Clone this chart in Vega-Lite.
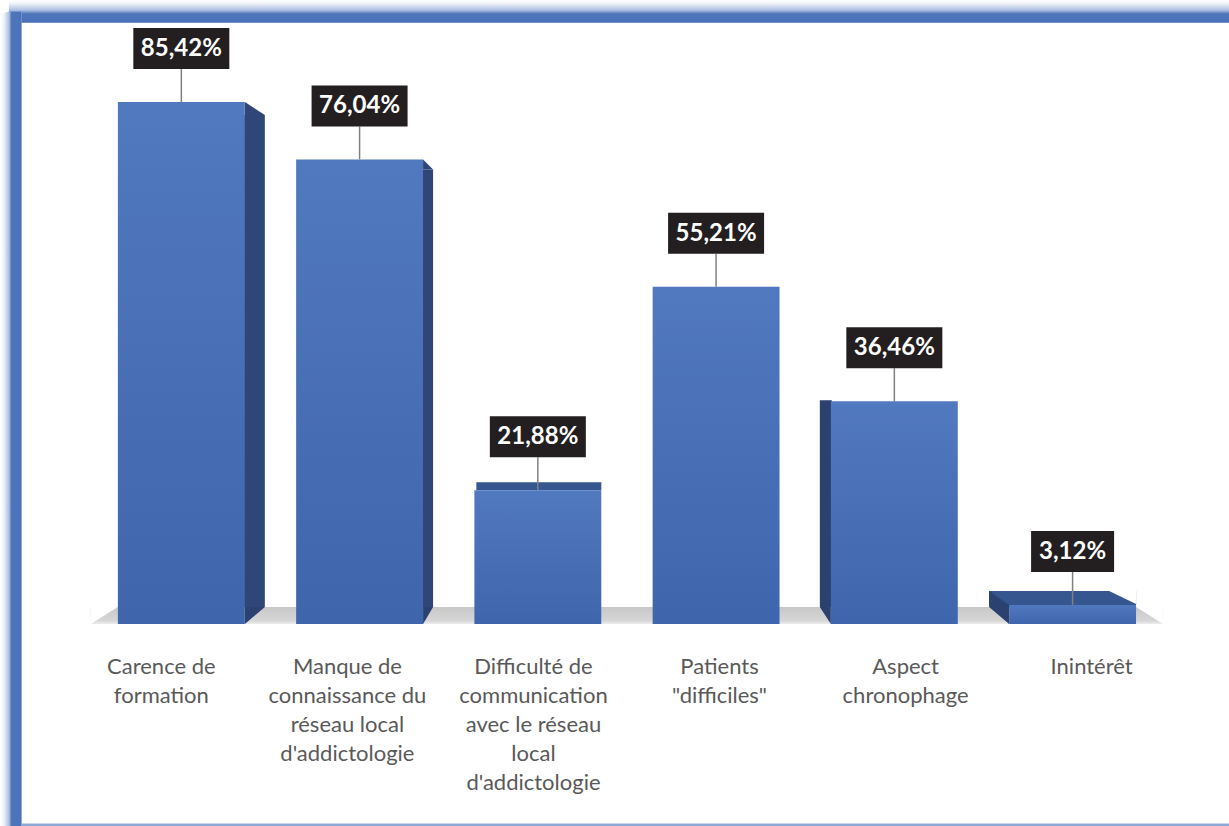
{
  "$schema": "https://vega.github.io/schema/vega-lite/v6.json",
  "width": 1229,
  "height": 826,
  "padding": 0,
  "autosize": {"type": "fit", "contains": "padding"},
  "background": "#ffffff",
  "config": {"view": {"stroke": null}},
  "data": {
    "values": [
      {"cat": "Carence de formation", "label": "Carence de\nformation", "value": 85.42, "txt": "85,42%"},
      {"cat": "Manque de connaissance du réseau local d'addictologie", "label": "Manque de\nconnaissance du\nréseau local\nd'addictologie", "value": 76.04, "txt": "76,04%"},
      {"cat": "Difficulté de communication avec le réseau local d'addictologie", "label": "Difficulté de\ncommunication\navec le réseau\nlocal\nd'addictologie", "value": 21.88, "txt": "21,88%"},
      {"cat": "Patients \"difficiles\"", "label": "Patients\n\"difficiles\"", "value": 55.21, "txt": "55,21%"},
      {"cat": "Aspect chronophage", "label": "Aspect\nchronophage", "value": 36.46, "txt": "36,46%"},
      {"cat": "Inintérêt", "label": "Inintérêt", "value": 3.12, "txt": "3,12%"}
    ]
  },
  "resolve": {"scale": {"x": "independent"}},
  "layer": [
    {
      "encoding": {
        "x": {"field": "cat", "type": "nominal", "sort": null, "axis": null,
          "scale": {"type": "band", "domain": ["Carence de formation", "Manque de connaissance du réseau local d'addictologie", "Difficulté de communication avec le réseau local d'addictologie", "Patients \"difficiles\"", "Aspect chronophage", "Inintérêt"], "paddingInner": 0.2881, "paddingOuter": 0.5886, "align": 0.557, "round": false}}
      },
      "layer": [
        {
          "data": {"values": [{}]},
          "mark": {"type": "bar", "width": 1221, "xOffset": 438,
            "fill": {"gradient": "linear", "x1": 0, "y1": 0, "x2": 0, "y2": 1, "stops": [{"offset": 0, "color": "#ffffff"}, {"offset": 0.15, "color": "#f0f3f9"}, {"offset": 0.45, "color": "#a9bde0"}, {"offset": 0.6, "color": "#4f76ba"}, {"offset": 0.95, "color": "#4a72b9"}, {"offset": 1, "color": "#8ea8d6"}]}},
          "encoding": {
            "x": {"datum": "Carence de formation", "type": "nominal", "axis": null},
            "y": {"datum": 102.13, "type": "quantitative", "axis": null, "scale": {"domain": [-33.06, 102.13], "nice": false, "zero": false}},
            "y2": {"datum": 98.37}
          }
        },
        {
          "data": {"values": [{}]},
          "mark": {"type": "bar", "width": 21, "xOffset": -170, "cornerRadiusTopLeft": 8,
            "fill": {"gradient": "linear", "x1": 0, "y1": 0, "x2": 1, "y2": 0, "stops": [{"offset": 0, "color": "#ffffff"}, {"offset": 0.15, "color": "#eef2f9"}, {"offset": 0.4, "color": "#a9bde0"}, {"offset": 0.5, "color": "#4f76ba"}, {"offset": 0.95, "color": "#4a72b9"}, {"offset": 1, "color": "#8ea8d6"}]}},
          "encoding": {
            "x": {"datum": "Carence de formation", "type": "nominal", "axis": null},
            "y": {"datum": 100.2, "type": "quantitative", "axis": null, "scale": {"domain": [-33.06, 102.13], "nice": false, "zero": false}},
            "y2": {"datum": -33.06}
          }
        },
        {
          "data": {"values": [{}]},
          "mark": {"type": "bar", "width": 1208, "xOffset": 444.5, "color": "#8ea8d6"},
          "encoding": {
            "x": {"datum": "Carence de formation", "type": "nominal", "axis": null},
            "y": {"datum": -32.65, "type": "quantitative", "axis": null, "scale": {"domain": [-33.06, 102.13], "nice": false, "zero": false}},
            "y2": {"datum": -33.06}
          }
        },
        {
          "mark": {"type": "bar", "width": 181, "yOffset": -17,
            "fill": {"gradient": "linear", "x1": 0, "y1": 0, "x2": 0, "y2": 1, "stops": [{"offset": 0, "color": "#c8c8c8"}, {"offset": 0.8, "color": "#d6d6d6"}, {"offset": 1, "color": "#ececec"}]}},
          "encoding": {
            "y": {"datum": 0, "type": "quantitative", "axis": null, "scale": {"domain": [-33.06, 102.13], "nice": false, "zero": false}},
            "y2": {"datum": 0}
          }
        },
        {
          "transform": [{"filter": {"field": "cat", "equal": "Carence de formation"}}],
          "mark": {"type": "point", "shape": "M-1,-0.63L1,-0.63L-1,0.63Z", "size": 729, "filled": true, "color": "#ffffff", "opacity": 1, "strokeWidth": 0, "xOffset": -77, "yOffset": -8.5},
          "encoding": {
            "y": {"datum": 0, "type": "quantitative", "axis": null, "scale": {"domain": [-33.06, 102.13], "nice": false, "zero": false}}
          }
        },
        {
          "transform": [{"filter": {"field": "cat", "equal": "Inintérêt"}}],
          "mark": {"type": "point", "shape": "M-1,-0.63L1,-0.63L1,0.63Z", "size": 729, "filled": true, "color": "#ffffff", "opacity": 1, "strokeWidth": 0, "xOffset": 77, "yOffset": -8.5},
          "encoding": {
            "y": {"datum": 0, "type": "quantitative", "axis": null, "scale": {"domain": [-33.06, 102.13], "nice": false, "zero": false}}
          }
        },
        {
          "transform": [{"filter": {"field": "cat", "equal": "Carence de formation"}}],
          "layer": [
            {
              "mark": {"type": "bar", "width": 21, "xOffset": 73, "yOffset": 13, "y2Offset": -17, "color": "#2f4677"},
              "encoding": {
                "y": {"field": "value", "type": "quantitative", "axis": null, "scale": {"domain": [-33.06, 102.13], "nice": false, "zero": false}},
                "y2": {"datum": 0}
              }
            },
            {
              "mark": {"type": "point", "shape": "M-1,-0.65L1,0.65L-1,0.65Z", "size": 400, "filled": true, "color": "#2f4677", "opacity": 1, "strokeWidth": 0, "xOffset": 73.5, "yOffset": 6.5},
              "encoding": {
                "y": {"field": "value", "type": "quantitative", "axis": null, "scale": {"domain": [-33.06, 102.13], "nice": false, "zero": false}}
              }
            },
            {
              "mark": {"type": "point", "shape": "M-1,-0.85L1,-0.85L-1,0.85Z", "size": 400, "filled": true, "color": "#2b4170", "opacity": 1, "strokeWidth": 0, "xOffset": 73.5, "yOffset": -8.5},
              "encoding": {
                "y": {"datum": 0, "type": "quantitative", "axis": null, "scale": {"domain": [-33.06, 102.13], "nice": false, "zero": false}}
              }
            }
          ]
        },
        {
          "transform": [{"filter": {"field": "cat", "equal": "Manque de connaissance du réseau local d'addictologie"}}],
          "layer": [
            {
              "mark": {"type": "bar", "width": 11, "xOffset": 68, "yOffset": 10, "y2Offset": -17, "color": "#2f4677"},
              "encoding": {
                "y": {"field": "value", "type": "quantitative", "axis": null, "scale": {"domain": [-33.06, 102.13], "nice": false, "zero": false}},
                "y2": {"datum": 0}
              }
            },
            {
              "mark": {"type": "point", "shape": "M-1,-1L1,1L-1,1Z", "size": 100, "filled": true, "color": "#2f4677", "opacity": 1, "strokeWidth": 0, "xOffset": 68.5, "yOffset": 5},
              "encoding": {
                "y": {"field": "value", "type": "quantitative", "axis": null, "scale": {"domain": [-33.06, 102.13], "nice": false, "zero": false}}
              }
            },
            {
              "mark": {"type": "point", "shape": "M-1,-1.7L1,-1.7L-1,1.7Z", "size": 100, "filled": true, "color": "#2b4170", "opacity": 1, "strokeWidth": 0, "xOffset": 68.5, "yOffset": -8.5},
              "encoding": {
                "y": {"datum": 0, "type": "quantitative", "axis": null, "scale": {"domain": [-33.06, 102.13], "nice": false, "zero": false}}
              }
            }
          ]
        },
        {
          "transform": [{"filter": {"field": "cat", "equal": "Difficulté de communication avec le réseau local d'addictologie"}}],
          "mark": {"type": "bar", "width": 125, "xOffset": 1, "yOffset": -8, "color": "#35568f"},
          "encoding": {
            "y": {"field": "value", "type": "quantitative", "axis": null, "scale": {"domain": [-33.06, 102.13], "nice": false, "zero": false}},
            "y2": {"field": "value"}
          }
        },
        {
          "transform": [{"filter": {"field": "cat", "equal": "Aspect chronophage"}}],
          "layer": [
            {
              "mark": {"type": "bar", "width": 12, "xOffset": -68.5, "yOffset": -1, "y2Offset": -17, "color": "#2b4170"},
              "encoding": {
                "y": {"field": "value", "type": "quantitative", "axis": null, "scale": {"domain": [-33.06, 102.13], "nice": false, "zero": false}},
                "y2": {"datum": 0}
              }
            },
            {
              "mark": {"type": "point", "shape": "M-1,-1.545L1,-1.545L1,1.545Z", "size": 121, "filled": true, "color": "#2b4170", "opacity": 1, "strokeWidth": 0, "xOffset": -69, "yOffset": -8.5},
              "encoding": {
                "y": {"datum": 0, "type": "quantitative", "axis": null, "scale": {"domain": [-33.06, 102.13], "nice": false, "zero": false}}
              }
            }
          ]
        },
        {
          "transform": [{"filter": {"field": "cat", "equal": "Inintérêt"}}],
          "layer": [
            {
              "mark": {"type": "bar", "width": 147, "xOffset": -10, "yOffset": -14, "color": "#35568f"},
              "encoding": {
                "y": {"field": "value", "type": "quantitative", "axis": null, "scale": {"domain": [-33.06, 102.13], "nice": false, "zero": false}},
                "y2": {"field": "value"}
              }
            },
            {
              "mark": {"type": "point", "shape": "M-1,-0.48L1,-0.48L1,0.48Z", "size": 729, "filled": true, "color": "#ffffff", "opacity": 1, "strokeWidth": 0, "xOffset": 50, "yOffset": -7.5},
              "encoding": {
                "y": {"field": "value", "type": "quantitative", "axis": null, "scale": {"domain": [-33.06, 102.13], "nice": false, "zero": false}}
              }
            },
            {
              "mark": {"type": "point", "shape": "M-1,-0.7L1,0.7L-1,0.7Z", "size": 400, "filled": true, "color": "#2b4170", "opacity": 1, "strokeWidth": 0, "xOffset": -73.5, "yOffset": -7},
              "encoding": {
                "y": {"field": "value", "type": "quantitative", "axis": null, "scale": {"domain": [-33.06, 102.13], "nice": false, "zero": false}}
              }
            },
            {
              "mark": {"type": "bar", "width": 21, "xOffset": -73, "y2Offset": -17, "color": "#2b4170"},
              "encoding": {
                "y": {"field": "value", "type": "quantitative", "axis": null, "scale": {"domain": [-33.06, 102.13], "nice": false, "zero": false}},
                "y2": {"datum": 0}
              }
            },
            {
              "mark": {"type": "point", "shape": "M-1,-0.85L1,-0.85L1,0.85Z", "size": 400, "filled": true, "color": "#2b4170", "opacity": 1, "strokeWidth": 0, "xOffset": -73.5, "yOffset": -8.5},
              "encoding": {
                "y": {"datum": 0, "type": "quantitative", "axis": null, "scale": {"domain": [-33.06, 102.13], "nice": false, "zero": false}}
              }
            }
          ]
        },
        {
          "mark": {"type": "bar",
            "fill": {"gradient": "linear", "x1": 0, "y1": 0, "x2": 0, "y2": 1, "stops": [{"offset": 0, "color": "#5179c0"}, {"offset": 1, "color": "#3f66ad"}]}},
          "encoding": {
            "y": {"field": "value", "type": "quantitative", "axis": null, "scale": {"domain": [-33.06, 102.13], "nice": false, "zero": false}},
            "y2": {"datum": 0}
          }
        },
        {
          "mark": {"type": "rule", "color": "#808080", "strokeWidth": 1.5, "yOffset": -33},
          "encoding": {
            "y": {"field": "value", "type": "quantitative", "axis": null, "scale": {"domain": [-33.06, 102.13], "nice": false, "zero": false}},
            "y2": {"field": "value"}
          }
        },
        {
          "mark": {"type": "bar", "color": "#231f20", "yOffset": -74, "y2Offset": -33},
          "encoding": {
            "y": {"field": "value", "type": "quantitative", "axis": null, "scale": {"domain": [-33.06, 102.13], "nice": false, "zero": false}},
            "y2": {"field": "value"},
            "size": {"field": "value", "type": "quantitative", "legend": null, "scale": {"type": "threshold", "domain": [10], "range": [83, 96]}}
          }
        },
        {
          "mark": {"type": "text", "color": "#ffffff", "font": "Lato", "fontWeight": "bold", "fontSize": 24, "baseline": "middle", "align": "center", "yOffset": -53},
          "encoding": {
            "y": {"field": "value", "type": "quantitative", "axis": null, "scale": {"domain": [-33.06, 102.13], "nice": false, "zero": false}},
            "text": {"field": "txt", "type": "nominal"}
          }
        }
      ]
    },
    {
      "mark": {"type": "text", "color": "#595959", "font": "Lato", "fontSize": 22, "baseline": "top", "align": "center", "lineBreak": "\n", "lineHeight": 29, "yOffset": 33},
      "encoding": {
        "x": {"field": "cat", "type": "nominal", "sort": null, "axis": null,
          "scale": {"type": "band", "domain": ["Carence de formation", "Manque de connaissance du réseau local d'addictologie", "Difficulté de communication avec le réseau local d'addictologie", "Patients \"difficiles\"", "Aspect chronophage", "Inintérêt"], "paddingInner": 0, "paddingOuter": 0.3, "align": 0.603, "round": false}},
        "y": {"datum": 0, "type": "quantitative", "axis": null, "scale": {"domain": [-33.06, 102.13], "nice": false, "zero": false}},
        "text": {"field": "label", "type": "nominal"}
      }
    }
  ]
}
